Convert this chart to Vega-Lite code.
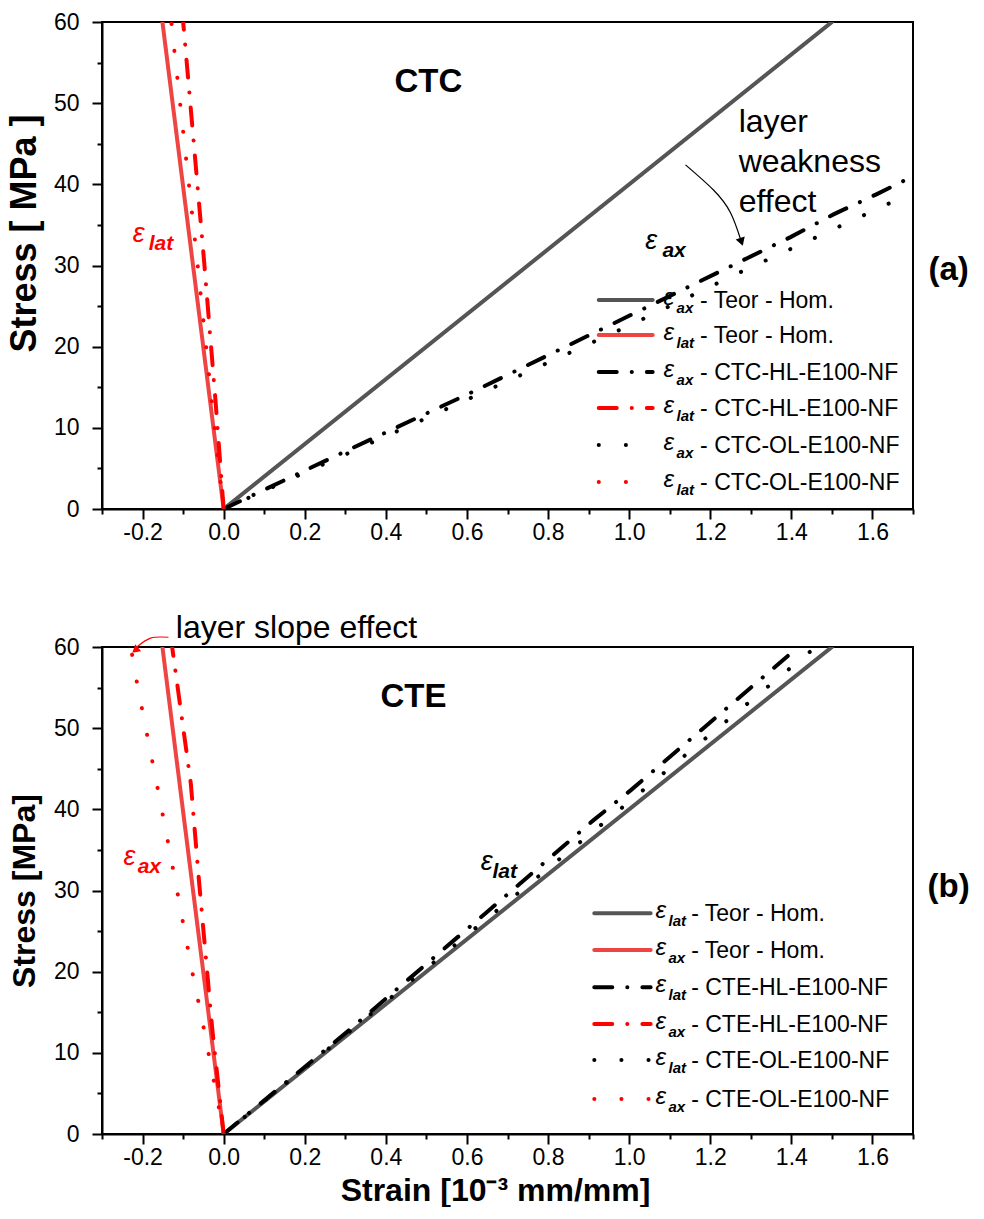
{
  "$schema": "https://vega.github.io/schema/vega-lite/v6.json",
  "background": "white",
  "padding": {"left": 5, "top": 10, "right": 0, "bottom": 0},
  "spacing": 138,
  "bounds": "flush",
  "config": {
    "view": {"stroke": "black", "strokeWidth": 2},
    "axis": {"domainColor": "black", "domainWidth": 2, "tickColor": "black", "tickWidth": 2, "labelFont": "Liberation Sans", "labelFontSize": 23, "labelColor": "black", "titleFont": "Liberation Sans", "titleFontWeight": "bold", "titleFontSize": 32, "titleColor": "black", "grid": false},
    "text": {"font": "Liberation Sans"}
  },
  "datasets": {
    "a_lines": [
      {"style": "grayTeor", "i": 0, "x": 0, "y": 0}, {"style": "grayTeor", "i": 1, "x": 1.5, "y": 60},
      {"style": "redTeor", "i": 0, "x": 0, "y": 0}, {"style": "redTeor", "i": 1, "x": -0.151, "y": 60},
      {"style": "blackHL", "i": 0, "x": 0, "y": 0}, {"style": "blackHL", "i": 1, "x": 0.3, "y": 7.1}, {"style": "blackHL", "i": 2, "x": 0.6, "y": 14.1}, {"style": "blackHL", "i": 3, "x": 1.0, "y": 23.8}, {"style": "blackHL", "i": 4, "x": 1.291, "y": 30.9}, {"style": "blackHL", "i": 5, "x": 1.398, "y": 33.5}, {"style": "blackHL", "i": 6, "x": 1.504, "y": 36.3}, {"style": "blackHL", "i": 7, "x": 1.611, "y": 38.8}, {"style": "blackHL", "i": 8, "x": 1.7, "y": 41.0},
      {"style": "redHL", "i": 0, "x": 0, "y": 0}, {"style": "redHL", "i": 1, "x": -0.0197, "y": 13.1}, {"style": "redHL", "i": 2, "x": -0.0485, "y": 30.7}, {"style": "redHL", "i": 3, "x": -0.098, "y": 59}, {"style": "redHL", "i": 4, "x": -0.1, "y": 60},
      {"style": "blackOL", "i": 0, "x": 0, "y": 0}, {"style": "blackOL", "i": 1, "x": 0.5, "y": 11.2}, {"style": "blackOL", "i": 2, "x": 1.0, "y": 22.6}, {"style": "blackOL", "i": 3, "x": 1.275, "y": 29.2}, {"style": "blackOL", "i": 4, "x": 1.462, "y": 33.5}, {"style": "blackOL", "i": 5, "x": 1.652, "y": 37.9}, {"style": "blackOL", "i": 6, "x": 1.7, "y": 39.0},
      {"style": "redOL", "i": 0, "x": 0, "y": 0}, {"style": "redOL", "i": 1, "x": -0.016, "y": 6.9}, {"style": "redOL", "i": 2, "x": -0.064, "y": 30}, {"style": "redOL", "i": 3, "x": -0.127, "y": 59}, {"style": "redOL", "i": 4, "x": -0.129, "y": 60}
    ],
    "b_lines": [
      {"style": "grayTeor", "i": 0, "x": 0, "y": 0}, {"style": "grayTeor", "i": 1, "x": 1.5, "y": 60},
      {"style": "redTeor", "i": 0, "x": 0, "y": 0}, {"style": "redTeor", "i": 1, "x": -0.151, "y": 60},
      {"style": "blackHL", "i": 0, "x": 0, "y": 0}, {"style": "blackHL", "i": 1, "x": 0.3, "y": 12.4}, {"style": "blackHL", "i": 2, "x": 0.646, "y": 27.2}, {"style": "blackHL", "i": 3, "x": 0.913, "y": 38.7}, {"style": "blackHL", "i": 4, "x": 1.005, "y": 42.4}, {"style": "blackHL", "i": 5, "x": 1.361, "y": 57.6}, {"style": "blackHL", "i": 6, "x": 1.417, "y": 60},
      {"style": "redHL", "i": 0, "x": 0, "y": 0}, {"style": "redHL", "i": 1, "x": -0.028, "y": 12.9}, {"style": "redHL", "i": 2, "x": -0.061, "y": 31.3}, {"style": "redHL", "i": 3, "x": -0.081, "y": 43.2}, {"style": "redHL", "i": 4, "x": -0.127, "y": 60},
      {"style": "blackOL", "i": 0, "x": 0, "y": 0}, {"style": "blackOL", "i": 1, "x": 0.3, "y": 12.2}, {"style": "blackOL", "i": 2, "x": 0.651, "y": 26.6}, {"style": "blackOL", "i": 3, "x": 0.975, "y": 39.9}, {"style": "blackOL", "i": 4, "x": 1.46, "y": 60},
      {"style": "redOL", "i": 0, "x": 0, "y": 0}, {"style": "redOL", "i": 1, "x": -0.013, "y": 3.6}, {"style": "redOL", "i": 2, "x": -0.052, "y": 13.8}, {"style": "redOL", "i": 3, "x": -0.08, "y": 20.6}, {"style": "redOL", "i": 4, "x": -0.106, "y": 27.6}, {"style": "redOL", "i": 5, "x": -0.131, "y": 34.3}, {"style": "redOL", "i": 6, "x": -0.157, "y": 41.1}, {"style": "redOL", "i": 7, "x": -0.184, "y": 48}, {"style": "redOL", "i": 8, "x": -0.211, "y": 54.8}, {"style": "redOL", "i": 9, "x": -0.229, "y": 60}
    ],
    "a_legend": [
      {"style": "grayTeor", "y": 25.75, "sub": "ax", "t": "- Teor - Hom."},
      {"style": "redTeor", "y": 21.44, "sub": "lat", "t": "- Teor - Hom."},
      {"style": "blackHL", "y": 16.88, "sub": "ax", "t": "- CTC-HL-E100-NF"},
      {"style": "redHL", "y": 12.44, "sub": "lat", "t": "- CTC-HL-E100-NF"},
      {"style": "blackOL", "y": 7.88, "sub": "ax", "t": "- CTC-OL-E100-NF"},
      {"style": "redOL", "y": 3.33, "sub": "lat", "t": "- CTC-OL-E100-NF"}
    ],
    "b_legend": [
      {"style": "grayTeor", "y": 27.19, "sub": "lat", "t": "- Teor - Hom."},
      {"style": "redTeor", "y": 22.67, "sub": "ax", "t": "- Teor - Hom."},
      {"style": "blackHL", "y": 18.07, "sub": "lat", "t": "- CTE-HL-E100-NF"},
      {"style": "redHL", "y": 13.55, "sub": "ax", "t": "- CTE-HL-E100-NF"},
      {"style": "blackOL", "y": 9.12, "sub": "lat", "t": "- CTE-OL-E100-NF"},
      {"style": "redOL", "y": 4.31, "sub": "ax", "t": "- CTE-OL-E100-NF"}
    ],
    "a_eps": [
      {"x": 1.040, "y": 32.0, "sub": "ax", "xs": 1.082, "style": "blackHL"},
      {"x": -0.224, "y": 32.9, "sub": "lat", "xs": -0.185, "style": "redHL"}
    ],
    "b_eps": [
      {"x": 0.634, "y": 32.5, "sub": "lat", "xs": 0.663, "style": "blackHL"},
      {"x": -0.247, "y": 33.1, "sub": "ax", "xs": -0.212, "style": "redHL"}
    ],
    "a_bold": [
      {"x": 0.505, "y": 52.6, "t": "CTC"},
      {"x": 1.788, "y": 29.4, "t": "(a)"}
    ],
    "b_bold": [
      {"x": 0.468, "y": 53.8, "t": "CTE"},
      {"x": 1.788, "y": 30.4, "t": "(b)"}
    ],
    "a_note": [
      {"x": 1.27, "y": 47.7, "t": "layer"},
      {"x": 1.27, "y": 42.75, "t": "weakness"},
      {"x": 1.27, "y": 37.8, "t": "effect"}
    ],
    "b_note": [
      {"x": -0.118, "y": 62.3, "t": "layer slope effect"}
    ],
    "a_arrow": [
      {"i": 0, "x": 1.139, "y": 42.4}, {"i": 1, "x": 1.208, "y": 39.3}, {"i": 2, "x": 1.25, "y": 36.5}, {"i": 3, "x": 1.275, "y": 33.2}
    ],
    "a_head": [{"x": 1.277, "y": 32.9}],
    "b_arrow": [
      {"i": 0, "x": -0.136, "y": 61.2}, {"i": 1, "x": -0.18, "y": 61.1}, {"i": 2, "x": -0.214, "y": 60.0}
    ],
    "b_head": [{"x": -0.218, "y": 59.6}]
  },
  "vconcat": [
    {
      "width": 811,
      "height": 487,
      "layer": [
        {
          "data": {"name": "a_lines"},
          "mark": {"type": "line", "clip": true, "strokeCap": "round"},
          "encoding": {
            "x": {"field": "x", "type": "quantitative", "scale": {"domain": [-0.3, 1.7], "nice": false, "zero": false},
              "axis": {"title": null, "values": [-0.3, -0.2, -0.1, 0, 0.1, 0.2, 0.3, 0.4, 0.5, 0.6, 0.7, 0.8, 0.9, 1.0, 1.1, 1.2, 1.3, 1.4, 1.5, 1.6, 1.7],
                "labelExpr": "abs(round(datum.value*10))%2==0 ? (datum.value < -0.001 ? '-' : '') + format(abs(datum.value), '.1f') : ''",
                "tickSize": {"condition": {"test": "abs(round(datum.value*10))%2==0", "value": 10}, "value": 5},
                "labelPadding": 2, "labelFlush": false, "labelOverlap": false}},
            "y": {"field": "y", "type": "quantitative", "scale": {"domain": [0, 60], "nice": false},
              "axis": {"title": "Stress [ MPa ]", "titleFontSize": 36, "titleY": 211, "values": [0, 5, 10, 15, 20, 25, 30, 35, 40, 45, 50, 55, 60],
                "labelExpr": "datum.value % 10 == 0 ? datum.label : ''",
                "tickSize": {"condition": {"test": "datum.value % 10 == 0", "value": 10}, "value": 5},
                "labelPadding": 13, "titlePadding": 10, "labelFlush": false, "labelOverlap": false}},
            "detail": {"field": "style"},
            "order": {"field": "i"},
            "color": {"field": "style", "type": "nominal", "legend": null, "scale": {"domain": ["grayTeor", "redTeor", "blackHL", "redHL", "blackOL", "redOL"], "range": ["#555555", "#ee4444", "#000000", "#ff0000", "#000000", "#ff0000"]}},
            "strokeDash": {"field": "style", "type": "nominal", "legend": null, "scale": {"domain": ["grayTeor", "redTeor", "blackHL", "redHL", "blackOL", "redOL"], "range": [[1, 0], [1, 0], [18, 15, 0.1, 15], [18, 15, 0.1, 15], [0.1, 27], [0.1, 27]]}},
            "strokeWidth": {"field": "style", "type": "nominal", "legend": null, "scale": {"domain": ["grayTeor", "redTeor", "blackHL", "redHL", "blackOL", "redOL"], "range": [4, 4, 4.5, 4.5, 5, 5]}}
          }
        },
        {
          "mark": {"type": "rule", "color": "black", "strokeWidth": 2},
          "encoding": {"x": {"datum": 0}, "y": {"datum": 0}, "y2": {"datum": 60}}
        },
        {
          "data": {"name": "a_arrow"},
          "mark": {"type": "line", "color": "black", "strokeWidth": 1.2, "interpolate": "natural"},
          "encoding": {"x": {"field": "x", "type": "quantitative"}, "y": {"field": "y", "type": "quantitative"}, "order": {"field": "i"}}
        },
        {
          "data": {"name": "a_head"},
          "mark": {"type": "point", "shape": "triangle-up", "filled": true, "color": "black", "opacity": 1, "size": 90, "angle": 162},
          "encoding": {"x": {"field": "x", "type": "quantitative"}, "y": {"field": "y", "type": "quantitative"}}
        },
        {
          "data": {"name": "a_bold"},
          "mark": {"type": "text", "fontWeight": "bold", "fontSize": 33, "align": "center", "baseline": "middle", "color": "black"},
          "encoding": {"x": {"field": "x", "type": "quantitative"}, "y": {"field": "y", "type": "quantitative"}, "text": {"field": "t"}}
        },
        {
          "data": {"name": "a_note"},
          "mark": {"type": "text", "fontSize": 32, "align": "left", "baseline": "middle", "color": "black"},
          "encoding": {"x": {"field": "x", "type": "quantitative"}, "y": {"field": "y", "type": "quantitative"}, "text": {"field": "t"}}
        },
        {
          "data": {"name": "a_eps"},
          "mark": {"type": "text", "text": "ε", "fontStyle": "italic", "fontSize": 27, "align": "left", "baseline": "alphabetic"},
          "encoding": {"x": {"field": "x", "type": "quantitative"}, "y": {"field": "y", "type": "quantitative"}, "color": {"field": "style", "type": "nominal", "legend": null}}
        },
        {
          "data": {"name": "a_eps"},
          "mark": {"type": "text", "fontStyle": "italic", "fontWeight": "bold", "fontSize": 21, "align": "left", "baseline": "alphabetic", "dy": 8},
          "encoding": {"x": {"field": "xs", "type": "quantitative"}, "y": {"field": "y", "type": "quantitative"}, "text": {"field": "sub"}, "color": {"field": "style", "type": "nominal", "legend": null}}
        },
        {
          "mark": {"type": "rect", "fill": "white", "stroke": "black", "strokeWidth": 1.5},
          "encoding": {"x": {"datum": 0.92}, "x2": {"datum": 1.669}, "y": {"datum": 1.0}, "y2": {"datum": 28.1}}
        },
        {
          "data": {"name": "a_legend"},
          "mark": {"type": "rule", "strokeCap": "round"},
          "encoding": {
            "x": {"datum": 0.925}, "x2": {"datum": 1.058},
            "y": {"field": "y", "type": "quantitative"},
            "color": {"field": "style", "type": "nominal", "legend": null},
            "strokeDash": {"field": "style", "type": "nominal", "legend": null},
            "strokeWidth": {"field": "style", "type": "nominal", "legend": null}
          }
        },
        {
          "data": {"name": "a_legend"},
          "mark": {"type": "text", "text": "ε", "fontStyle": "italic", "fontSize": 24, "align": "left", "baseline": "alphabetic", "dy": 5, "color": "black"},
          "encoding": {"x": {"datum": 1.085}, "y": {"field": "y", "type": "quantitative"}}
        },
        {
          "data": {"name": "a_legend"},
          "mark": {"type": "text", "fontStyle": "italic", "fontWeight": "bold", "fontSize": 15, "align": "left", "baseline": "alphabetic", "dy": 13, "color": "black"},
          "encoding": {"x": {"datum": 1.117}, "y": {"field": "y", "type": "quantitative"}, "text": {"field": "sub"}}
        },
        {
          "data": {"name": "a_legend"},
          "mark": {"type": "text", "fontSize": 23, "align": "left", "baseline": "alphabetic", "dy": 8, "color": "black"},
          "encoding": {"x": {"datum": 1.175}, "y": {"field": "y", "type": "quantitative"}, "text": {"field": "t"}}
        }
      ]
    },
    {
      "width": 811,
      "height": 487,
      "layer": [
        {
          "data": {"name": "b_lines"},
          "mark": {"type": "line", "clip": true, "strokeCap": "round"},
          "encoding": {
            "x": {"field": "x", "type": "quantitative", "scale": {"domain": [-0.3, 1.7], "nice": false, "zero": false},
              "axis": {"title": "Strain [10⁻³ mm/mm]", "titleX": 393, "values": [-0.3, -0.2, -0.1, 0, 0.1, 0.2, 0.3, 0.4, 0.5, 0.6, 0.7, 0.8, 0.9, 1.0, 1.1, 1.2, 1.3, 1.4, 1.5, 1.6, 1.7],
                "labelExpr": "abs(round(datum.value*10))%2==0 ? (datum.value < -0.001 ? '-' : '') + format(abs(datum.value), '.1f') : ''",
                "tickSize": {"condition": {"test": "abs(round(datum.value*10))%2==0", "value": 10}, "value": 5},
                "labelPadding": 2, "titlePadding": 6, "labelFlush": false, "labelOverlap": false}},
            "y": {"field": "y", "type": "quantitative", "scale": {"domain": [0, 60], "nice": false},
              "axis": {"title": "Stress [MPa]", "values": [0, 5, 10, 15, 20, 25, 30, 35, 40, 45, 50, 55, 60],
                "labelExpr": "datum.value % 10 == 0 ? datum.label : ''",
                "tickSize": {"condition": {"test": "datum.value % 10 == 0", "value": 10}, "value": 5},
                "labelPadding": 13, "titlePadding": 12, "labelFlush": false, "labelOverlap": false}},
            "detail": {"field": "style"},
            "order": {"field": "i"},
            "color": {"field": "style", "type": "nominal", "legend": null, "scale": {"domain": ["grayTeor", "redTeor", "blackHL", "redHL", "blackOL", "redOL"], "range": ["#555555", "#ee4444", "#000000", "#ff0000", "#000000", "#ff0000"]}},
            "strokeDash": {"field": "style", "type": "nominal", "legend": null, "scale": {"domain": ["grayTeor", "redTeor", "blackHL", "redHL", "blackOL", "redOL"], "range": [[1, 0], [1, 0], [18, 15, 0.1, 15], [18, 15, 0.1, 15], [0.1, 27], [0.1, 27]]}},
            "strokeWidth": {"field": "style", "type": "nominal", "legend": null, "scale": {"domain": ["grayTeor", "redTeor", "blackHL", "redHL", "blackOL", "redOL"], "range": [4, 4, 4.5, 4.5, 5, 5]}}
          }
        },
        {
          "mark": {"type": "rule", "color": "black", "strokeWidth": 2},
          "encoding": {"x": {"datum": 0}, "y": {"datum": 0}, "y2": {"datum": 60}}
        },
        {
          "data": {"name": "b_arrow"},
          "mark": {"type": "line", "color": "#ff0000", "strokeWidth": 1.2, "interpolate": "natural"},
          "encoding": {"x": {"field": "x", "type": "quantitative"}, "y": {"field": "y", "type": "quantitative"}, "order": {"field": "i"}}
        },
        {
          "data": {"name": "b_head"},
          "mark": {"type": "point", "shape": "triangle-up", "filled": true, "color": "#ff0000", "opacity": 1, "size": 80, "angle": 230},
          "encoding": {"x": {"field": "x", "type": "quantitative"}, "y": {"field": "y", "type": "quantitative"}}
        },
        {
          "data": {"name": "b_bold"},
          "mark": {"type": "text", "fontWeight": "bold", "fontSize": 33, "align": "center", "baseline": "middle", "color": "black"},
          "encoding": {"x": {"field": "x", "type": "quantitative"}, "y": {"field": "y", "type": "quantitative"}, "text": {"field": "t"}}
        },
        {
          "data": {"name": "b_note"},
          "mark": {"type": "text", "fontSize": 32, "align": "left", "baseline": "middle", "color": "black"},
          "encoding": {"x": {"field": "x", "type": "quantitative"}, "y": {"field": "y", "type": "quantitative"}, "text": {"field": "t"}}
        },
        {
          "data": {"name": "b_eps"},
          "mark": {"type": "text", "text": "ε", "fontStyle": "italic", "fontSize": 27, "align": "left", "baseline": "alphabetic"},
          "encoding": {"x": {"field": "x", "type": "quantitative"}, "y": {"field": "y", "type": "quantitative"}, "color": {"field": "style", "type": "nominal", "legend": null}}
        },
        {
          "data": {"name": "b_eps"},
          "mark": {"type": "text", "fontStyle": "italic", "fontWeight": "bold", "fontSize": 21, "align": "left", "baseline": "alphabetic", "dy": 8},
          "encoding": {"x": {"field": "xs", "type": "quantitative"}, "y": {"field": "y", "type": "quantitative"}, "text": {"field": "sub"}, "color": {"field": "style", "type": "nominal", "legend": null}}
        },
        {
          "mark": {"type": "rect", "fill": "white", "stroke": "black", "strokeWidth": 1.5},
          "encoding": {"x": {"datum": 0.909}, "x2": {"datum": 1.664}, "y": {"datum": 1.7}, "y2": {"datum": 29.6}}
        },
        {
          "data": {"name": "b_legend"},
          "mark": {"type": "rule", "strokeCap": "round"},
          "encoding": {
            "x": {"datum": 0.914}, "x2": {"datum": 1.053},
            "y": {"field": "y", "type": "quantitative"},
            "color": {"field": "style", "type": "nominal", "legend": null},
            "strokeDash": {"field": "style", "type": "nominal", "legend": null},
            "strokeWidth": {"field": "style", "type": "nominal", "legend": null}
          }
        },
        {
          "data": {"name": "b_legend"},
          "mark": {"type": "text", "text": "ε", "fontStyle": "italic", "fontSize": 24, "align": "left", "baseline": "alphabetic", "dy": 5, "color": "black"},
          "encoding": {"x": {"datum": 1.065}, "y": {"field": "y", "type": "quantitative"}}
        },
        {
          "data": {"name": "b_legend"},
          "mark": {"type": "text", "fontStyle": "italic", "fontWeight": "bold", "fontSize": 15, "align": "left", "baseline": "alphabetic", "dy": 13, "color": "black"},
          "encoding": {"x": {"datum": 1.097}, "y": {"field": "y", "type": "quantitative"}, "text": {"field": "sub"}}
        },
        {
          "data": {"name": "b_legend"},
          "mark": {"type": "text", "fontSize": 23, "align": "left", "baseline": "alphabetic", "dy": 8, "color": "black"},
          "encoding": {"x": {"datum": 1.153}, "y": {"field": "y", "type": "quantitative"}, "text": {"field": "t"}}
        }
      ]
    }
  ]
}
